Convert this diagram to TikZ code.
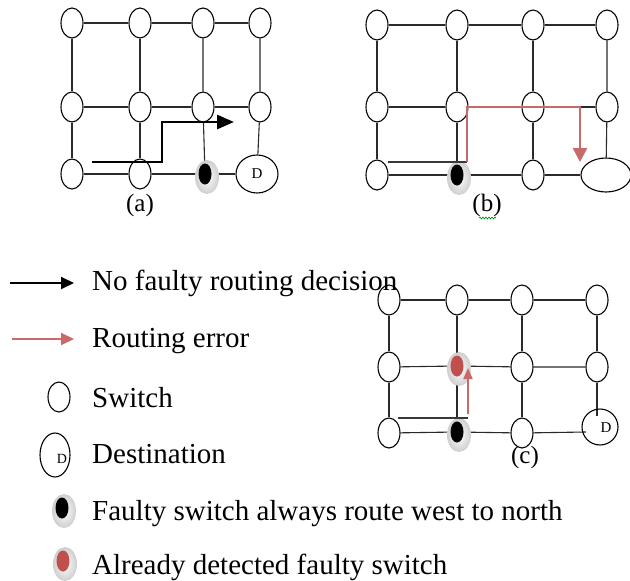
\documentclass[tikz,border=0pt]{standalone}
\usepackage{fontspec}
\setmainfont{Liberation Serif}
\usetikzlibrary{shapes.geometric,arrows.meta,decorations.pathmorphing,calc}
\pgfdeclarelayer{links}
\pgfsetlayers{links,main}
\definecolor{errred}{HTML}{C0504D}
\definecolor{wire}{HTML}{2A2A2A}

% halo + core of a faulty switch
\newcommand{\faultyat}[4]{% name, x, y, core colour
  \shade[inner color=white, outer color=gray!38] (#2+2,#3+3) ellipse [x radius=12pt, y radius=17pt];
  \node[badcore, fill=#4] (#1) at (#2,#3) {};
}

\begin{document}
\begin{tikzpicture}[x=1pt,y=-1pt,
  sw/.style={ellipse, draw=black, line width=1.1pt, fill=white,
    minimum width=22pt, minimum height=30pt, inner sep=0pt},
  badcore/.style={ellipse, minimum width=13pt, minimum height=21pt, inner sep=0pt},
  link/.style={draw=wire, line width=1.1pt},
  dfont/.style={font=\fontsize{15}{15}\selectfont},
  legtext/.style={anchor=base west, font=\fontsize{29}{30}\selectfont, inner sep=0pt},
  tag/.style={font=\fontsize{25}{25}\selectfont, inner sep=0pt},
  route/.style={line width=2.8pt, draw=black},
  grayroute/.style={line width=2pt, draw=gray!45!black},
  errroute/.style={line width=2.4pt, draw=errred!85},
  bigtip/.style={-{Triangle[length=17pt, width=14pt]}},
  midtip/.style={-{Triangle[length=14pt, width=14pt]}},
  smalltip/.style={-{Triangle[length=11pt, width=9pt]}},
  legtip/.style={-{Triangle[length=13pt, width=12pt]}},
]
\useasboundingbox (0,0) rectangle (630,581);

% ---------------- grid (a) ----------------
\node[sw] (a11) at (72,23) {};
\node[sw] (a12) at (140,23) {};
\node[sw] (a13) at (203,23) {};
\node[sw] (a14) at (260,23) {};
\node[sw] (a21) at (72,107) {};
\node[sw] (a22) at (140,107) {};
\node[sw] (a23) at (203,107) {};
\node[sw] (a24) at (260,107) {};
\node[sw] (a31) at (72,174) {};
\node[sw] (a32) at (140,174) {};
\faultyat{aF}{205}{174}{black}
\node[sw, dfont, minimum width=42pt, minimum height=38pt] (aD) at (257,174) {D};
\begin{pgfonlayer}{links}
  \draw[link] (a11) -- (a12) -- (a13) -- (a14);
  \draw[link] (a21) -- (a22) -- (a23) -- (a24);
  \draw[link] (a31) -- (a32) -- (aF) -- (aD);
  \draw[link] (a11) -- (a21) -- (a31);
  \draw[link] (a12) -- (a22) -- (a32);
  \draw[link] (a13) -- (a23) -- (aF);
  \draw[link] (a14) -- (a24) -- (aD);
\end{pgfonlayer}
\coordinate (aS) at (92,162);
\coordinate (aK) at (162,122);
\coordinate (aT) at (234,122);
\draw[route, bigtip] (aS) -| (aK) -- (aT);
\node[tag] (la) at (140,205) {(a)};

% ---------------- grid (b) ----------------
\node[sw] (b11) at (377,25) {};
\node[sw] (b12) at (457,25) {};
\node[sw] (b13) at (533,25) {};
\node[sw] (b14) at (607,25) {};
\node[sw] (b21) at (377,107) {};
\node[sw] (b22) at (457,107) {};
\node[sw] (b23) at (533,107) {};
\node[sw] (b24) at (607,107) {};
\node[sw] (b31) at (377,175) {};
\faultyat{bF}{457}{175}{black}
\node[sw] (b33) at (533,175) {};
\node[sw, minimum width=50pt, minimum height=34pt] (bE) at (606,175) {};
\begin{pgfonlayer}{links}
  \draw[link] (b11) -- (b12) -- (b13) -- (b14);
  \draw[link] (b21) -- (b22) -- (b23) -- (b24);
  \draw[link] (b31) -- (bF) -- (b33) -- (bE);
  \draw[link] (b11) -- (b21) -- (b31);
  \draw[link] (b12) -- (b22) -- (bF);
  \draw[link] (b13) -- (b23) -- (b33);
  \draw[link] (b14) -- (b24) -- (bE);
\end{pgfonlayer}
\coordinate (bS) at (388,162);
\coordinate (bK1) at (467,162);
\coordinate (bK2) at (580,107);
\coordinate (bT) at (580,162);
\draw[grayroute] (bS) -- (bK1);
\draw[errroute, midtip] (bK1) |- (bK2) -- (bT);
\node[tag] (lb) at (487,205) {(b)};
\draw[green!55!black, line width=0.6pt, decorate,
  decoration={snake, amplitude=1pt, segment length=3pt}]
  (479,218) -- (496,218);

% ---------------- grid (c) ----------------
\node[sw] (c11) at (389,300) {};
\node[sw] (c12) at (457,300) {};
\node[sw] (c13) at (522,300) {};
\node[sw] (c14) at (597,300) {};
\node[sw] (c21) at (389,367) {};
\faultyat{cF2}{457}{366}{errred}
\node[sw] (c23) at (522,367) {};
\node[sw] (c24) at (597,367) {};
\node[sw] (c31) at (389,433) {};
\faultyat{cF1}{457}{432}{black}
\node[sw] (c33) at (522,433) {};
\node[circle, draw=black, line width=1.1pt, minimum size=36pt, inner sep=0pt] (cD) at (600,427) {};
\node[dfont, inner sep=0pt] (cDt) at (606,428) {D};
\coordinate (cDw) at (586,432);
\coordinate (cDn) at (597,416);
\begin{pgfonlayer}{links}
  \draw[link] (c11) -- (c12) -- (c13) -- (c14);
  \draw[link] (c21) -- (cF2) -- (c23) -- (c24);
  \draw[link] (c31) -- (cF1) -- (c33) -- (cDw);
  \draw[link] (c11) -- (c21) -- (c31);
  \draw[link] (c12) -- (cF2) -- (cF1);
  \draw[link] (c13) -- (c23) -- (c33);
  \draw[link] (c14) -- (c24) -- (cDn);
\end{pgfonlayer}
\coordinate (cS) at (398,418);
\coordinate (cK) at (468,418);
\coordinate (cB) at (468,414);
\coordinate (cT) at (468,368);
\draw[grayroute] (cS) -- (cK);
\draw[errroute, line width=1.8pt, smalltip] (cB) -- (cT);
\node[tag] (lc) at (525,457) {(c)};

% ---------------- legend ----------------
\coordinate (k1a) at (10,283);
\coordinate (k1b) at (74,283);
\draw[line width=2pt, legtip] (k1a) -- (k1b);
\node[legtext] (t1) at (92,290) {No faulty routing decision};

\coordinate (k2a) at (12,339);
\coordinate (k2b) at (74,339);
\draw[line width=2pt, draw=errred!85, legtip] (k2a) -- (k2b);
\node[legtext] (t2) at (92,347) {Routing error};

\node[sw] (k3) at (59,397) {};
\node[legtext] (t3) at (92,407) {Switch};

\node[ellipse, draw=black, line width=1.1pt, minimum width=30pt, minimum height=44pt, inner sep=0pt] (k4) at (55,455) {};
\node[font=\fontsize{14}{14}\selectfont, inner sep=0pt] (k4t) at (62,459) {D};
\node[legtext] (t4) at (92,463) {Destination};

\faultyat{k5}{62}{508}{black}
\node[legtext] (t5) at (92,520) {Faulty switch always route west to north};

\faultyat{k6}{63}{561}{errred}
\node[legtext] (t6) at (92,574) {Already detected faulty switch};
\end{tikzpicture}
\end{document}
